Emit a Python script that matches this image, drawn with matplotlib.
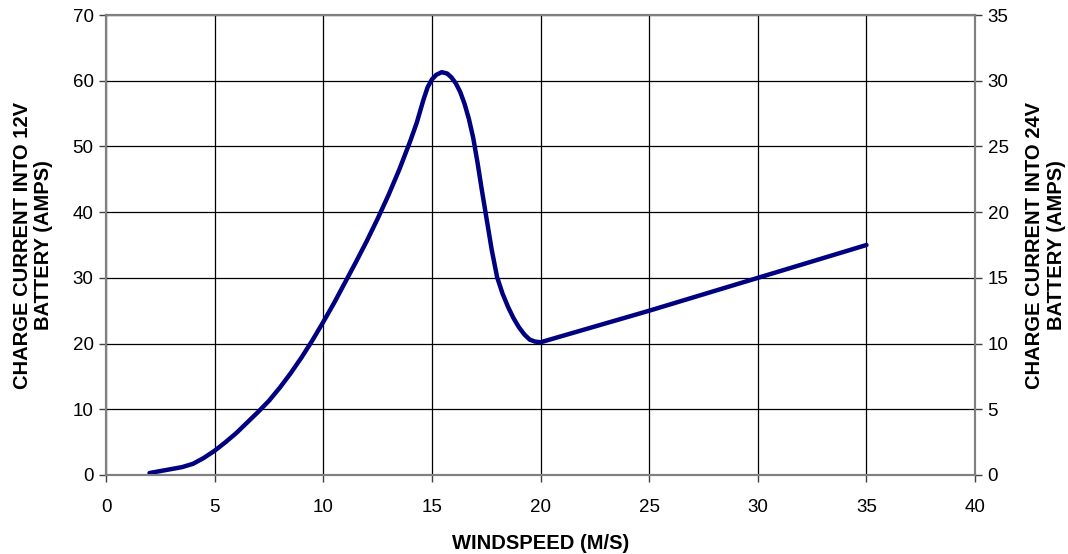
import matplotlib
matplotlib.use("Agg")
import matplotlib.pyplot as plt

windspeed = [2, 2.5, 3, 3.5, 4, 4.5, 5, 5.5, 6, 6.5, 7, 7.5, 8, 8.5, 9, 9.5, 10,
             10.5, 11, 11.5, 12, 12.5, 13, 13.5, 14, 14.3, 14.6, 14.8, 15, 15.2,
             15.45, 15.7, 15.9, 16.1, 16.3, 16.5, 16.7, 16.9, 17.1, 17.3, 17.5,
             17.75, 18, 18.25, 18.5, 18.75, 19, 19.25, 19.5, 19.75, 20, 22.5, 25,
             27.5, 30, 32.5, 35]
current_12v = [0.3, 0.6, 0.9, 1.2, 1.7, 2.6, 3.7, 5.0, 6.4, 8.0, 9.6, 11.3, 13.3,
               15.5, 17.9, 20.5, 23.3, 26.2, 29.3, 32.4, 35.6, 39.0, 42.6, 46.5,
               50.8, 53.6, 57.0, 59.0, 60.2, 60.9, 61.3, 61.1, 60.5, 59.6, 58.3,
               56.5, 54.2, 51.3, 47.5, 43.3, 39.3, 34.3, 30.1, 27.6, 25.6, 23.9,
               22.5, 21.4, 20.6, 20.3, 20.2, 22.6, 25.0, 27.5, 30.0, 32.5, 35.0]

x_ticks = [0, 5, 10, 15, 20, 25, 30, 35, 40]
left_ticks = [0, 10, 20, 30, 40, 50, 60, 70]
right_ticks = [0, 5, 10, 15, 20, 25, 30, 35]

plt.rcParams['font.family'] = ['Liberation Sans', 'DejaVu Sans']

fig = plt.figure(figsize=(10.68, 5.54), dpi=100)
ax = fig.add_axes([0.0993, 0.1426, 0.8137, 0.8303])

ax.plot(windspeed, current_12v, color='#000080', lw=3.2,
        solid_joinstyle='round', solid_capstyle='round', zorder=3)

ax.set_xlim(0, 40)
ax.set_ylim(0, 70)
ax.set_xticks(x_ticks)
ax.set_yticks(left_ticks)
ax.grid(True, color='#000000', lw=0.9)
ax.set_axisbelow(True)
for s in ax.spines.values():
    s.set_color('#808080')
    s.set_linewidth(1.5)
ax.tick_params(axis='y', direction='out', length=5, width=1, color='#404040',
               labelsize=13.5, pad=4)
ax.tick_params(axis='x', direction='out', length=5, width=1, color='#404040',
               labelsize=13.5, pad=12)
ax.set_xlabel('WINDSPEED (M/S)', fontsize=14.5, fontweight='bold', labelpad=13)
ax.set_ylabel('CHARGE CURRENT INTO 12V\nBATTERY (AMPS)', fontsize=14.5,
              fontweight='bold', labelpad=14, linespacing=1.15)

ax2 = ax.twinx()
ax2.set_ylim(0, 35)
ax2.set_yticks(right_ticks)
for s in ax2.spines.values():
    s.set_color('#808080')
    s.set_linewidth(1.5)
ax2.tick_params(axis='y', direction='out', length=5, width=1, color='#404040',
                labelsize=13.5, pad=4)
ax2.set_ylabel('CHARGE CURRENT INTO 24V\nBATTERY (AMPS)', fontsize=14.5,
               fontweight='bold', labelpad=12, linespacing=1.15, rotation=90)

fig.savefig('out.png', dpi=100)
